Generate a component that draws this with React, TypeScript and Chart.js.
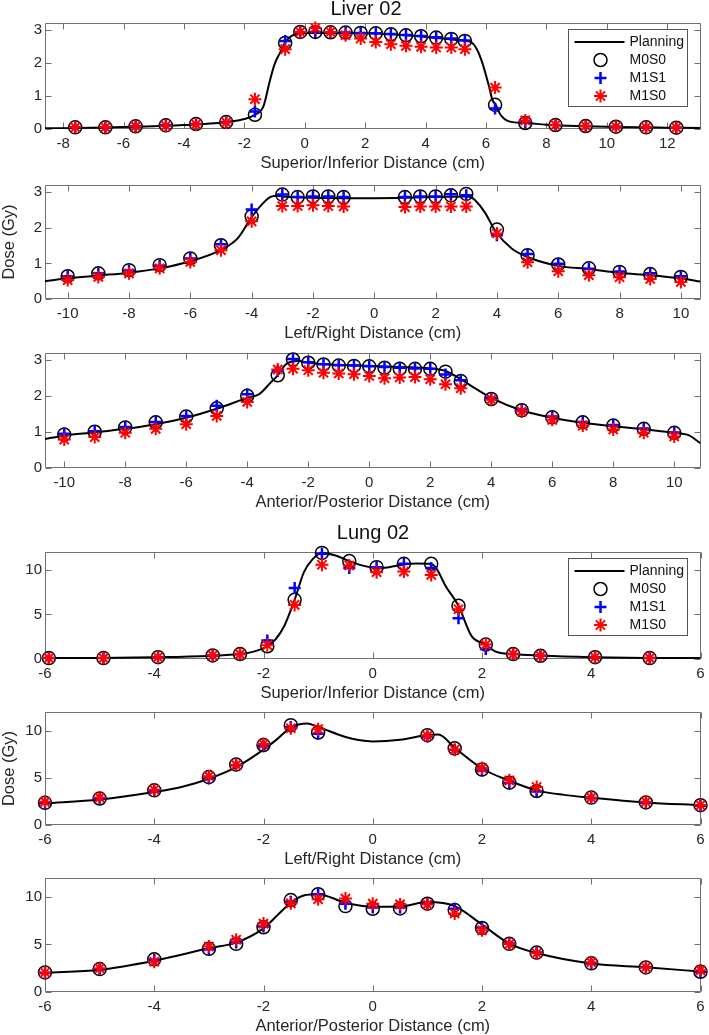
import React, { useEffect, useRef } from 'react';
import { Chart, registerables } from 'chart.js';

Chart.register(...registerables);

const FONT = '"Liberation Sans", Arial, Helvetica, sans-serif';
const TEXT = '#262626';
const AXIS = '#707070';

// ---------------- Liver 02 : Superior/Inferior ----------------
const liverSiX = [-7.6, -6.6, -5.6, -4.6, -3.6, -2.6, -1.65, -0.65, -0.15, 0.35, 0.85, 1.35, 1.85, 2.35, 2.85, 3.35, 3.85, 4.35, 4.85, 5.3, 6.3, 7.3, 8.3, 9.3, 10.3, 11.3, 12.3];
const liverSiM0S0 = [0.05, 0.05, 0.08, 0.11, 0.15, 0.21, 0.43, 2.6, 2.93, 2.93, 2.92, 2.91, 2.9, 2.89, 2.86, 2.83, 2.8, 2.76, 2.72, 2.66, 0.73, 0.18, 0.12, 0.09, 0.07, 0.05, 0.04];
const liverSiM1S1 = [0.05, 0.05, 0.08, 0.11, 0.15, 0.21, 0.53, 2.66, 2.93, 2.93, 2.92, 2.91, 2.9, 2.89, 2.87, 2.84, 2.81, 2.77, 2.73, 2.67, 0.62, 0.2, 0.12, 0.09, 0.07, 0.05, 0.04];
const liverSiM1S0 = [0.05, 0.05, 0.08, 0.1, 0.14, 0.2, 0.9, 2.41, 2.93, 3.05, 2.93, 2.83, 2.73, 2.63, 2.56, 2.51, 2.48, 2.46, 2.46, 2.41, 1.25, 0.26, 0.12, 0.09, 0.07, 0.05, 0.04];
const liverSiPlanX = [-8.6, -7, -6, -5, -4, -3, -2.5, -2, -1.65, -1.37, -1.15, -0.99, -0.82, -0.66, -0.49, -0.27, 0, 1, 2, 3, 4, 5, 5.5, 5.7, 5.88, 6.1, 6.21, 6.32, 6.48, 6.76, 7.31, 8, 9, 10, 11, 12, 13.1];
const liverSiPlanY = [0.02, 0.04, 0.06, 0.08, 0.12, 0.17, 0.22, 0.3, 0.43, 0.68, 1.48, 1.98, 2.3, 2.6, 2.78, 2.87, 2.9, 2.9, 2.89, 2.85, 2.78, 2.69, 2.62, 2.4, 1.99, 1.28, 0.88, 0.73, 0.43, 0.23, 0.18, 0.13, 0.09, 0.07, 0.05, 0.04, 0.03];

// ---------------- Liver 02 : Left/Right ----------------
const liverLrX = [-10, -9, -8, -7, -6, -5, -4, -3, -2.5, -2, -1.5, -1, 1, 1.5, 2, 2.5, 3, 4, 5, 6, 7, 8, 9, 10];
const liverLrM0S0 = [0.64, 0.72, 0.81, 0.95, 1.14, 1.51, 2.32, 2.93, 2.86, 2.88, 2.88, 2.86, 2.86, 2.88, 2.88, 2.91, 2.95, 1.95, 1.23, 0.97, 0.86, 0.76, 0.7, 0.62];
const liverLrM1S1 = [0.64, 0.72, 0.8, 0.93, 1.14, 1.54, 2.51, 2.93, 2.86, 2.88, 2.88, 2.86, 2.86, 2.88, 2.88, 2.94, 2.91, 1.79, 1.26, 0.99, 0.85, 0.77, 0.72, 0.64];
const liverLrM1S0 = [0.53, 0.62, 0.72, 0.86, 1.04, 1.37, 2.18, 2.61, 2.61, 2.63, 2.61, 2.6, 2.58, 2.6, 2.6, 2.6, 2.6, 1.84, 1.03, 0.78, 0.67, 0.61, 0.56, 0.48];
const liverLrPlanX = [-10.74, -10, -9, -8, -7, -6, -5, -4.45, -4, -3.65, -3.4, -3.2, -3, -2, -1, 0, 1, 2, 3, 3.15, 3.29, 3.6, 3.97, 4.48, 5, 6, 7, 8, 9, 10, 10.64];
const liverLrPlanY = [0.5, 0.58, 0.66, 0.74, 0.86, 1.06, 1.38, 1.71, 2.3, 2.67, 2.86, 2.9, 2.88, 2.84, 2.83, 2.83, 2.84, 2.86, 2.88, 2.86, 2.77, 2.44, 1.88, 1.42, 1.18, 0.93, 0.84, 0.73, 0.67, 0.58, 0.49];

// ---------------- Liver 02 : Anterior/Posterior ----------------
const liverApX = [-10, -9, -8, -7, -6, -5, -4, -3, -2.5, -2, -1.5, -1, -0.5, 0, 0.5, 1, 1.5, 2, 2.5, 3, 4, 5, 6, 7, 8, 9, 10];
const liverApM0S0 = [0.93, 1.01, 1.13, 1.27, 1.43, 1.66, 2.01, 2.58, 3.02, 2.93, 2.88, 2.85, 2.84, 2.83, 2.79, 2.76, 2.76, 2.76, 2.68, 2.42, 1.92, 1.61, 1.41, 1.27, 1.18, 1.09, 0.98];
const liverApM1S1 = [0.95, 1.02, 1.14, 1.28, 1.45, 1.73, 2.05, 2.7, 3.03, 2.94, 2.89, 2.86, 2.85, 2.83, 2.81, 2.79, 2.77, 2.76, 2.6, 2.44, 1.94, 1.63, 1.43, 1.28, 1.2, 1.1, 0.99];
const liverApM1S0 = [0.79, 0.86, 0.98, 1.09, 1.22, 1.45, 1.84, 2.74, 2.76, 2.72, 2.65, 2.63, 2.61, 2.56, 2.5, 2.52, 2.53, 2.47, 2.33, 2.22, 1.9, 1.57, 1.34, 1.18, 1.07, 0.98, 0.88];
const liverApPlanX = [-10.63, -10, -9, -8, -7, -6, -5, -4, -3.6, -3.24, -3, -2.74, -2.5, -2.3, -2, -1, 0, 1, 2, 2.5, 3, 3.5, 4, 5, 6, 7, 8, 9, 10, 10.45, 10.86];
const liverApPlanY = [0.81, 0.9, 0.99, 1.09, 1.22, 1.4, 1.65, 1.95, 2.06, 2.37, 2.58, 2.88, 2.97, 2.98, 2.93, 2.87, 2.84, 2.81, 2.77, 2.7, 2.47, 2.2, 1.95, 1.6, 1.4, 1.26, 1.16, 1.08, 0.98, 0.92, 0.69];

// ---------------- Lung 02 : Superior/Inferior ----------------
const lungSiX = [-5.93, -4.93, -3.93, -2.93, -2.43, -1.93, -1.43, -0.93, -0.43, 0.07, 0.57, 1.07, 1.57, 2.07, 2.57, 3.07, 4.07, 5.07];
const lungSiM0S0 = [0.1, 0.1, 0.2, 0.4, 0.55, 1.43, 6.64, 11.9, 10.98, 10.3, 10.68, 10.68, 5.96, 1.62, 0.55, 0.36, 0.2, 0.1];
const lungSiM1S1 = [0.1, 0.1, 0.2, 0.4, 0.55, 2.07, 7.96, 11.81, 10.2, 10.3, 10.68, 10.2, 4.56, 1.13, 0.55, 0.36, 0.2, 0.1];
const lungSiM1S0 = [0.1, 0.1, 0.2, 0.4, 0.55, 1.55, 6.07, 10.57, 10.49, 9.74, 9.8, 9.43, 5.58, 1.62, 0.55, 0.36, 0.2, 0.1];
const lungSiPlanX = [-6, -5, -4, -3, -2.43, -2.2, -1.93, -1.78, -1.62, -1.43, -1.26, -1.1, -0.93, -0.68, -0.43, -0.2, 0.07, 0.3, 0.57, 0.8, 1.07, 1.17, 1.33, 1.57, 1.81, 2.07, 2.24, 2.57, 3.07, 4, 5, 6];
const lungSiPlanY = [0.1, 0.12, 0.2, 0.35, 0.55, 0.8, 1.43, 2.2, 3.7, 6.64, 9.74, 11.2, 11.9, 11.6, 10.98, 10.5, 10.2, 10.3, 10.6, 10.7, 10.65, 10.1, 8.22, 5.96, 2.56, 1.62, 0.86, 0.55, 0.38, 0.2, 0.12, 0.1];

// ---------------- Lung 02 : Left/Right ----------------
const lungLrX = [-6, -5, -4, -3, -2.5, -2, -1.5, -1, 1, 1.5, 2, 2.5, 3, 4, 5, 6];
const lungLrM0S0 = [2.35, 2.81, 3.68, 5.09, 6.42, 8.49, 10.6, 9.82, 9.54, 8.14, 5.89, 4.49, 3.61, 2.91, 2.39, 2.1];
const lungLrM1S1 = [2.3, 2.75, 3.6, 4.95, 6.35, 8.35, 10.4, 9.7, 9.4, 8.0, 5.8, 4.45, 3.55, 2.85, 2.35, 2.05];
const lungLrM1S0 = [2.46, 2.91, 3.75, 5.19, 6.39, 8.6, 10.28, 10.18, 9.47, 8.0, 6.04, 4.74, 4.04, 2.91, 2.46, 2.1];
const lungLrPlanX = [-6, -5, -4, -3.5, -3, -2.5, -2, -1.75, -1.5, -1.2, -1, -0.5, -0.26, 0, 0.5, 1, 1.2, 1.5, 2, 2.5, 3, 3.5, 4, 5, 6];
const lungLrPlanY = [2.28, 2.7, 3.5, 4.03, 4.91, 6.14, 8.0, 9.12, 10.35, 10.77, 10.4, 9.35, 9.02, 8.88, 9.05, 9.55, 9.6, 8.2, 6.0, 4.7, 3.68, 3.2, 2.9, 2.4, 2.1];

// ---------------- Lung 02 : Anterior/Posterior ----------------
const lungApX = [-6, -5, -4, -3, -2.5, -2, -1.5, -1, -0.5, 0, 0.5, 1, 1.5, 2, 2.5, 3, 4, 5, 6];
const lungApM0S0 = [2.06, 2.41, 3.44, 4.54, 5.07, 6.81, 9.68, 10.29, 9.04, 8.76, 8.8, 9.3, 8.62, 6.74, 5.07, 4.15, 3.02, 2.59, 2.13];
const lungApM1S1 = [2.0, 2.4, 3.4, 4.5, 5.2, 6.9, 9.5, 10.3, 9.3, 8.9, 8.9, 9.3, 8.76, 6.8, 5.1, 4.15, 3.0, 2.6, 2.1];
const lungApM1S0 = [2.06, 2.49, 3.19, 4.79, 5.5, 7.2, 9.33, 9.76, 9.83, 9.3, 9.22, 9.22, 8.27, 6.49, 5.04, 4.08, 3.13, 2.59, 2.28];
const lungApPlanX = [-6, -5, -4, -3, -2.5, -2, -1.75, -1.5, -1.25, -1, -0.5, 0, 0.5, 1, 1.5, 2, 2.5, 3, 4, 5, 6];
const lungApPlanY = [2.02, 2.35, 3.3, 4.6, 5.2, 6.7, 8.05, 9.4, 10.18, 10.3, 9.4, 8.98, 9.0, 9.47, 9.04, 7.1, 5.1, 4.1, 3.0, 2.6, 2.15];

// ---------------- ticks & labels ----------------
const liverSiXTicks = [-8, -6, -4, -2, 0, 2, 4, 6, 8, 10, 12];
const liverLrXTicks = [-10, -8, -6, -4, -2, 0, 2, 4, 6, 8, 10];
const liverYTicks = [0, 1, 2, 3];
const lungXTicks = [-6, -4, -2, 0, 2, 4, 6];
const lungYTicks = [0, 5, 10];
const seriesLabels = ['Planning', 'M0S0', 'M1S1', 'M1S0'];
const axisLabels = ['Superior/Inferior Distance (cm)', 'Left/Right Distance (cm)', 'Anterior/Posterior Distance (cm)'];
const doseLabel = 'Dose (Gy)';
const titles = ['Liver 02', 'Lung 02'];

type Panel = {
  id: string;
  x: number[]; m0: number[]; m1: number[]; m2: number[];
  px: number[]; py: number[];
  xMin: number; xMax: number; yMax: number;
  xTicks: number[]; yTicks: number[];
  xLabel: string; yLabel?: string; title?: string; legend?: boolean;
  plotTop: number; plotBottom: number; titleX?: number; titleY?: number;
};

const panels: Panel[] = [
  { id: 'liverSI', x: liverSiX, m0: liverSiM0S0, m1: liverSiM1S1, m2: liverSiM1S0, px: liverSiPlanX, py: liverSiPlanY,
    xMin: -8.6, xMax: 13.1, yMax: 3.2, xTicks: liverSiXTicks, yTicks: liverYTicks, xLabel: axisLabels[0],
    title: titles[0], legend: true, plotTop: 23, plotBottom: 129, titleX: 366, titleY: 9 },
  { id: 'liverLR', x: liverLrX, m0: liverLrM0S0, m1: liverLrM1S1, m2: liverLrM1S0, px: liverLrPlanX, py: liverLrPlanY,
    xMin: -10.74, xMax: 10.64, yMax: 3.2, xTicks: liverLrXTicks, yTicks: liverYTicks, xLabel: axisLabels[1],
    yLabel: doseLabel, plotTop: 185, plotBottom: 299 },
  { id: 'liverAP', x: liverApX, m0: liverApM0S0, m1: liverApM1S1, m2: liverApM1S0, px: liverApPlanX, py: liverApPlanY,
    xMin: -10.63, xMax: 10.86, yMax: 3.2, xTicks: liverLrXTicks, yTicks: liverYTicks, xLabel: axisLabels[2],
    plotTop: 353, plotBottom: 468 },
  { id: 'lungSI', x: lungSiX, m0: lungSiM0S0, m1: lungSiM1S1, m2: lungSiM1S0, px: lungSiPlanX, py: lungSiPlanY,
    xMin: -6, xMax: 6, yMax: 12, xTicks: lungXTicks, yTicks: lungYTicks, xLabel: axisLabels[0],
    title: titles[1], legend: true, plotTop: 552, plotBottom: 659, titleX: 373, titleY: 533 },
  { id: 'lungLR', x: lungLrX, m0: lungLrM0S0, m1: lungLrM1S1, m2: lungLrM1S0, px: lungLrPlanX, py: lungLrPlanY,
    xMin: -6, xMax: 6, yMax: 12, xTicks: lungXTicks, yTicks: lungYTicks, xLabel: axisLabels[1],
    yLabel: doseLabel, plotTop: 712, plotBottom: 825 },
  { id: 'lungAP', x: lungApX, m0: lungApM0S0, m1: lungApM1S1, m2: lungApM1S0, px: lungApPlanX, py: lungApPlanY,
    xMin: -6, xMax: 6, yMax: 12, xTicks: lungXTicks, yTicks: lungYTicks, xLabel: axisLabels[2],
    plotTop: 878, plotBottom: 992 },
];

const drawStar = (ctx: CanvasRenderingContext2D, cx: number, cy: number, r: number) => {
  for (let k = 0; k < 4; k++) {
    const a = (k * Math.PI) / 4;
    ctx.moveTo(cx - r * Math.cos(a), cy - r * Math.sin(a));
    ctx.lineTo(cx + r * Math.cos(a), cy + r * Math.sin(a));
  }
};

const matlabAxes = {
  id: 'matlabAxes',
  beforeDatasetsDraw(chart: any) {
    const { ctx, chartArea: a, scales } = chart;
    const L = Math.round(a.left) + 0.5, R = Math.round(a.right) - 0.5;
    const T = Math.round(a.top) + 0.5, B = Math.round(a.bottom) - 0.5;
    const tl = 6;
    ctx.save();
    ctx.strokeStyle = AXIS;
    ctx.lineWidth = 1;
    ctx.beginPath();
    ctx.rect(L, T, R - L, B - T);
    scales.x.ticks.forEach((t: any) => {
      const p = Math.round(scales.x.getPixelForValue(t.value)) + 0.5;
      ctx.moveTo(p, B); ctx.lineTo(p, B - tl);
      ctx.moveTo(p, T); ctx.lineTo(p, T + tl);
    });
    scales.y.ticks.forEach((t: any) => {
      const p = Math.round(scales.y.getPixelForValue(t.value)) + 0.5;
      ctx.moveTo(L, p); ctx.lineTo(L + tl, p);
      ctx.moveTo(R, p); ctx.lineTo(R - tl, p);
    });
    ctx.stroke();
    ctx.restore();
  },
  afterDraw(chart: any, _args: any, opts: any) {
    if (!opts) return;
    const { ctx, chartArea: a } = chart;
    if (opts.title) {
      ctx.save();
      ctx.fillStyle = '#111';
      ctx.font = `20px ${FONT}`;
      ctx.textAlign = 'center';
      ctx.textBaseline = 'middle';
      ctx.fillText(opts.title, opts.titleX, opts.titleY);
      ctx.restore();
    }
    if (!opts.legend) return;
    const w = 119, h = 77;
    const x0 = Math.round(a.right) - 133 + 0.5;
    const y0 = Math.round(a.top) + 6 + 0.5;
    ctx.save();
    ctx.fillStyle = '#ffffff';
    ctx.fillRect(x0, y0, w, h);
    ctx.strokeStyle = '#555555';
    ctx.lineWidth = 1;
    ctx.strokeRect(x0, y0, w, h);
    const mx = x0 + 32;
    seriesLabels.forEach((lab, i) => {
      const cy = y0 + 12.5 + i * 18;
      ctx.beginPath();
      if (i === 0) {
        ctx.strokeStyle = '#000'; ctx.lineWidth = 2;
        ctx.moveTo(x0 + 6, cy); ctx.lineTo(x0 + 56, cy);
      } else if (i === 1) {
        ctx.strokeStyle = '#000'; ctx.lineWidth = 1.5;
        ctx.arc(mx, cy, 6.5, 0, Math.PI * 2);
      } else if (i === 2) {
        ctx.strokeStyle = '#0000ff'; ctx.lineWidth = 2.5;
        ctx.moveTo(mx - 6, cy); ctx.lineTo(mx + 6, cy);
        ctx.moveTo(mx, cy - 6); ctx.lineTo(mx, cy + 6);
      } else {
        ctx.strokeStyle = '#ff0000'; ctx.lineWidth = 2;
        drawStar(ctx, mx, cy, 6.5);
      }
      ctx.stroke();
      ctx.fillStyle = '#111';
      ctx.font = `14px ${FONT}`;
      ctx.textBaseline = 'middle';
      ctx.textAlign = 'left';
      ctx.fillText(lab, x0 + 61, cy);
    });
    ctx.restore();
  },
};

const pts = (xs: number[], ys: number[]) => xs.map((x, i) => ({ x, y: ys[i] }));

const X_AXIS_H = 44;
const Y_AXIS_W = 45;

function geometry(p: Panel) {
  const canvasTop = p.title ? Math.max(0, p.plotTop - 30) : p.plotTop - 12;
  const canvasBottom = p.plotBottom + X_AXIS_H;
  return { canvasTop, height: canvasBottom - canvasTop };
}

function PanelChart({ p }: { p: Panel }) {
  const ref = useRef<HTMLCanvasElement | null>(null);
  const { canvasTop, height } = geometry(p);

  useEffect(() => {
    if (!ref.current) return;
    const padTop = p.plotTop - canvasTop;
    const pointCommon = { showLine: false, clip: false as any, pointHoverRadius: 0, pointHitRadius: 0 };
    const chart = new Chart(ref.current, {
      type: 'scatter',
      data: {
        datasets: [
          { label: seriesLabels[0], data: pts(p.px, p.py), showLine: true, pointRadius: 0, pointHoverRadius: 0,
            borderColor: '#000000', borderWidth: 2, cubicInterpolationMode: 'monotone', tension: 0, order: 4 } as any,
          { label: seriesLabels[1], data: pts(p.x, p.m0), ...pointCommon, pointStyle: 'circle', pointRadius: 6.5,
            pointBorderColor: '#000000', borderColor: '#000000', pointBackgroundColor: 'rgba(0,0,0,0)',
            backgroundColor: 'rgba(0,0,0,0)', pointBorderWidth: 1.5, order: 3 } as any,
          { label: seriesLabels[2], data: pts(p.x, p.m1), ...pointCommon, pointStyle: 'cross', pointRadius: 6,
            pointBorderColor: '#0000ff', borderColor: '#0000ff', pointBackgroundColor: 'rgba(0,0,0,0)',
            backgroundColor: 'rgba(0,0,0,0)', pointBorderWidth: 2.5, order: 2 } as any,
          { label: seriesLabels[3], data: pts(p.x, p.m2), ...pointCommon, pointStyle: 'star', pointRadius: 6.5,
            pointBorderColor: '#ff0000', borderColor: '#ff0000', pointBackgroundColor: 'rgba(0,0,0,0)',
            backgroundColor: 'rgba(0,0,0,0)', pointBorderWidth: 2, order: 1 } as any,
        ],
      },
      options: {
        responsive: false,
        animation: false,
        devicePixelRatio: 1,
        events: [],
        layout: { padding: { left: 0, right: 6, top: padTop, bottom: 0 } },
        plugins: {
          legend: { display: false },
          tooltip: { enabled: false },
          title: { display: false },
          matlabAxes: {
            legend: !!p.legend,
            title: p.title || '',
            titleX: p.titleX || 0,
            titleY: (p.titleY || 0) - canvasTop,
          },
        } as any,
        scales: {
          x: {
            type: 'linear', min: p.xMin, max: p.xMax,
            grid: { display: false, drawTicks: false },
            border: { display: false },
            ticks: { padding: 0, color: TEXT, autoSkip: false, maxRotation: 0,
              font: { family: FONT, size: 15, lineHeight: 2 }, callback: (v: any) => String(v) },
            title: { display: true, text: p.xLabel, color: TEXT, padding: 0,
              font: { family: FONT, size: 16.5, lineHeight: 1.2 } },
            afterBuildTicks: (s: any) => { s.ticks = p.xTicks.map((v) => ({ value: v })); },
            afterFit: (s: any) => { s.height = X_AXIS_H; },
          },
          y: {
            type: 'linear', min: 0, max: p.yMax,
            grid: { display: false, drawTicks: false },
            border: { display: false },
            ticks: { padding: 3, color: TEXT, font: { family: FONT, size: 15, lineHeight: 1.2 },
              callback: (v: any) => String(v) },
            title: { display: !!p.yLabel, text: p.yLabel || '', color: TEXT, padding: 0,
              font: { family: FONT, size: 16.5, lineHeight: 1.2 } },
            afterBuildTicks: (s: any) => { s.ticks = p.yTicks.map((v) => ({ value: v })); },
            afterFit: (s: any) => { s.width = Y_AXIS_W; },
          },
        } as any,
      },
      plugins: [matlabAxes as any],
    });
    return () => chart.destroy();
  }, [p, canvasTop]);

  return (
    <canvas
      ref={ref}
      width={709}
      height={height}
      style={{ position: 'absolute', left: 0, top: canvasTop, width: 709, height }}
    />
  );
}

export default function App() {
  useEffect(() => {
    document.body.style.margin = '0';
    document.body.style.overflow = 'hidden';
  }, []);
  return (
    <div style={{ position: 'absolute', left: 0, top: 0, width: 709, height: 1035, overflow: 'hidden', background: '#ffffff' }}>
      {panels.map((p) => (
        <PanelChart key={p.id} p={p} />
      ))}
    </div>
  );
}
